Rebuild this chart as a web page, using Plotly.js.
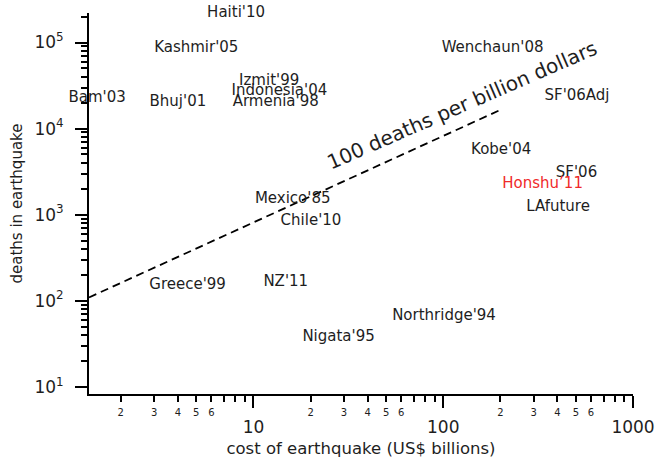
<!DOCTYPE html>
<html>
<head>
<meta charset="utf-8">
<script src="https://cdn.plot.ly/plotly-3.0.1.min.js"></script>
<style>html,body{margin:0;padding:0;background:#fff;}#chart{width:658px;height:463px;}</style>
</head>
<body>
<div id="chart"></div>
<script>
// Earthquake labels, cost (US$ billions) and deaths
const quakeLabels = ["Haiti'10","Kashmir'05","Bam'03","Bhuj'01","Izmit'99","Indonesia'04","Armenia'98",
  "Wenchaun'08","SF'06Adj","Kobe'04","SF'06","Honshu\u201911","LAfuture","Mexico'85","Chile'10",
  "Greece'99","NZ'11","Northridge'94","Nigata'95"];
const quakeCost = [8.1, 5.0, 1.5, 4.0, 12.1, 13.7, 13.1, 182, 507, 202, 504, 334, 403, 16.1, 20.1, 4.5, 14.8, 101, 28.1];
const quakeDeaths = [220000, 85000, 22700, 20000, 35500, 26900, 20000, 85000, 23500, 5530, 3035, 2234, 1208, 1500, 832, 153, 165, 66, 38];
const highlighted = ["Honshu\u201911"];

// Reference line "100 deaths per billion dollars" (end points as drawn)
const lineCost = [1.36, 204];
const lineDeaths = [109, 16800];
const lineLabel = "100 deaths per billion dollars";

// Axis ticks
const xMajorTicks = [10, 100, 1000];
const xMajorText = ["10", "100", "1000"];
const xMinorTicks = [2,3,4,5,6,7,8,9,20,30,40,50,60,70,80,90,200,300,400,500,600,700,800,900];
const xMinorLabelTicks = [2,3,4,5,6,20,30,40,50,60,200,300,400,500,600];
const xMinorLabelText = ["2","3","4","5","6","2","3","4","5","6","2","3","4","5","6"];
const yMajorTicks = [10, 100, 1000, 10000, 100000];
const yMajorText = ["10<sup>1</sup>","10<sup>2</sup>","10<sup>3</sup>","10<sup>4</sup>","10<sup>5</sup>"];
const yMinorTicks = [20,30,40,50,60,70,80,90,200,300,400,500,600,700,800,900,
  2000,3000,4000,5000,6000,7000,8000,9000,20000,30000,40000,50000,60000,70000,80000,90000,200000];

const FONT = "DejaVu Sans, Verdana, sans-serif";
const INK = "#1e1e1e";

const traces = [
  {
    x: lineCost, y: lineDeaths, mode: "lines", type: "scatter",
    line: {color: "#000", width: 1.8, dash: "8px,5px"},
    hoverinfo: "skip", showlegend: false
  },
  {
    x: quakeCost, y: quakeDeaths, text: quakeLabels, mode: "text", type: "scatter",
    textposition: "middle center",
    textfont: {family: FONT, size: 15, color: quakeLabels.map(l => highlighted.includes(l) ? "#f02a2a" : INK)},
    cliponaxis: false, showlegend: false
  },
  {
    // carrier for the small minor-tick labels on the x axis
    x: [xMinorLabelTicks[0]], y: [quakeDeaths[0]], xaxis: "x2", mode: "markers", type: "scatter",
    marker: {opacity: 0}, hoverinfo: "skip", showlegend: false
  }
];

const layout = {
  width: 658, height: 463,
  margin: {l: 89, r: 25, t: 13, b: 69},
  paper_bgcolor: "#fff", plot_bgcolor: "#fff",
  font: {family: FONT, color: INK},
  showlegend: false,
  xaxis: {
    type: "log", range: [Math.log10(1.36), 3.0],
    showline: true, linewidth: 2, linecolor: "#000", mirror: false,
    showgrid: false, zeroline: false,
    ticks: "outside", ticklen: 12, tickwidth: 2, tickcolor: "#000",
    tickmode: "array", tickvals: xMajorTicks, ticktext: xMajorText,
    tickfont: {family: FONT, size: 17, color: INK},
    ticklabelstandoff: 5,
    minor: {tickmode: "array", tickvals: xMinorTicks, ticks: "outside", ticklen: 6, tickwidth: 2, tickcolor: "#000", showgrid: false},
    title: {text: "cost of earthquake (US$ billions)", font: {family: FONT, size: 16.5, color: INK}, standoff: 6}
  },
  xaxis2: {
    type: "log", range: [Math.log10(1.36), 3.0], overlaying: "x", anchor: "y", side: "bottom",
    showline: false, showgrid: false, zeroline: false, ticks: "",
    tickmode: "array", tickvals: xMinorLabelTicks, ticktext: xMinorLabelText,
    tickfont: {family: FONT, size: 10, color: INK},
    ticklabelstandoff: 11
  },
  yaxis: {
    type: "log", range: [0.915, 5.343],
    showline: true, linewidth: 2, linecolor: "#000", mirror: false,
    showgrid: false, zeroline: false,
    ticks: "outside", ticklen: 12, tickwidth: 2, tickcolor: "#000",
    tickmode: "array", tickvals: yMajorTicks, ticktext: yMajorText,
    tickfont: {family: FONT, size: 17, color: INK},
    ticklabelstandoff: 8,
    minor: {tickmode: "array", tickvals: yMinorTicks, ticks: "outside", ticklen: 6, tickwidth: 2, tickcolor: "#000", showgrid: false},
    title: {text: "deaths in earthquake", font: {family: FONT, size: 15, color: INK}, standoff: 8}
  },
  annotations: [
    {
      text: lineLabel, xref: "x", yref: "y", x: 2.100, y: 4.276,
      showarrow: false, textangle: -23.5,
      font: {family: FONT, size: 20, color: INK},
      xanchor: "center", yanchor: "middle"
    }
  ]
};

Plotly.newPlot("chart", traces, layout, {displayModeBar: false, staticPlot: true});
</script>
</body>
</html>
